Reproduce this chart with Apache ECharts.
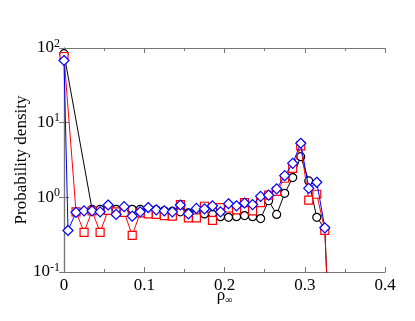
<!DOCTYPE html>
<html>
<head>
<meta charset="utf-8">
<script src="https://cdn.jsdelivr.net/npm/echarts@6/dist/echarts.min.js"></script>
<style>
html,body{margin:0;padding:0;background:#fff}
#chart{width:415px;height:321px}
</style>
</head>
<body>
<div id="chart"></div>
<script>
'use strict'
// bin positions and densities
let blackX = [0, 0.035, 0.045, 0.055, 0.065, 0.075, 0.085, 0.095, 0.105, 0.115, 0.125, 0.135, 0.145, 0.155, 0.165, 0.175, 0.185, 0.195, 0.205, 0.215, 0.225, 0.235, 0.245, 0.255, 0.265, 0.275, 0.285, 0.295, 0.305, 0.315, 0.325, 0.335],
	blackY = [84, 0.69, 0.69, 0.69, 0.69, 0.69, 0.69, 0.69, 0.69, 0.68, 0.66, 0.65, 0.64, 0.62, 0.59, 0.60, 0.59, 0.55, 0.54, 0.55, 0.57, 0.55, 0.52, 0.9, 0.59, 1.13, 1.84, 3.5, 1.66, 0.54, 0.38, 0.001];
let redX = [0, 0.015, 0.025, 0.035, 0.045, 0.055, 0.065, 0.075, 0.085, 0.095, 0.105, 0.115, 0.125, 0.135, 0.145, 0.155, 0.165, 0.175, 0.185, 0.195, 0.205, 0.215, 0.225, 0.235, 0.245, 0.255, 0.265, 0.275, 0.285, 0.295, 0.305, 0.315, 0.325, 0.335],
	redY = [77, 0.64, 0.34, 0.66, 0.34, 0.67, 0.64, 0.63, 0.31, 0.62, 0.60, 0.59, 0.57, 0.56, 0.80, 0.53, 0.53, 0.76, 0.49, 0.73, 0.72, 0.68, 0.85, 0.66, 0.85, 1.07, 1.2, 1.8, 2.45, 4.9, 0.92, 1.1, 0.36, 0.001];
let blueX = [0, 0.005, 0.015, 0.025, 0.035, 0.045, 0.055, 0.065, 0.075, 0.085, 0.095, 0.105, 0.115, 0.125, 0.135, 0.145, 0.155, 0.165, 0.175, 0.185, 0.195, 0.205, 0.215, 0.225, 0.235, 0.245, 0.255, 0.265, 0.275, 0.285, 0.295, 0.305, 0.315, 0.325],
	blueY = [68, 0.36, 0.63, 0.66, 0.66, 0.64, 0.79, 0.59, 0.75, 0.56, 0.64, 0.73, 0.68, 0.66, 0.64, 0.79, 0.60, 0.71, 0.70, 0.77, 0.64, 0.82, 0.77, 0.84, 0.80, 1.03, 1.07, 1.3, 1.95, 2.85, 5.3, 1.32, 1.59, 0.39];
let xTicks = ['0', '0.1', '0.2', '0.3', '0.4'];

const pair = (xs, ys) => xs.map((x, i) => [x, ys[i]]);
const font = 'Liberation Serif';
const axisCol = '#777';

let chart = echarts.init(document.getElementById('chart'));
let mk = (name, xs, ys, col, sym, z) => ({
	name: name,
	type: 'line',
	data: pair(xs, ys),
	symbol: sym,
	symbolSize: sym == 'diamond' ? 10 : 8,
	showAllSymbol: true,
	z: z,
	lineStyle: {color: col, width: 1},
	itemStyle: {color: '#fff', borderColor: col, borderWidth: 1.2},
	emphasis: {disabled: true},
	animation: false
});
let option = {
	animation: false,
	grid: {left: 64, right: 30, top: 48, bottom: 49, outerBoundsMode: 'none', containLabel: false},
	xAxis: [{
		type: 'value', min: 0, max: 0.4, interval: 0.1,
		axisLine: {lineStyle: {color: axisCol, width: 1.2}},
		axisTick: {inside: true, length: 5, lineStyle: {color: axisCol}},
		minorTick: {show: true, splitNumber: 2, length: 3, lineStyle: {color: axisCol}},
		splitLine: {show: false},
		axisLabel: {
			color: '#000', fontFamily: font, fontSize: 17, margin: 5,
			formatter: (v) => xTicks[Math.round(v * 10)]
		},
		name: 'ρ{s|∞}',
		nameLocation: 'middle', nameGap: 14, nameMoveOverlap: false,
		nameTextStyle: {color: '#000', fontFamily: font, fontSize: 17, rich: {s: {fontSize: 10, fontFamily: font, verticalAlign: 'bottom', padding: [9, 0, 0, 0]}}}
	}, {
		type: 'value', min: 0, max: 0.4, interval: 0.1, position: 'top',
		axisLine: {show: true, lineStyle: {color: axisCol, width: 1.2}},
		axisTick: {show: true, inside: true, length: 5, lineStyle: {color: axisCol}},
		minorTick: {show: true, splitNumber: 2, length: 3, lineStyle: {color: axisCol}},
		splitLine: {show: false},
		axisLabel: {show: false}
	}],
	yAxis: [{
		type: 'log', logBase: 10, min: 0.1, max: 100,
		axisLine: {show: true, lineStyle: {color: axisCol, width: 1.2}},
		axisTick: {show: true, inside: true, length: 5, lineStyle: {color: axisCol}},
		splitLine: {show: false},
		axisLabel: {
			color: '#000', fontFamily: font, fontSize: 17, margin: 4,
			formatter: (v) => '10{s|' + Math.round(Math.log10(v)) + '}',
			rich: {s: {fontSize: 12, fontFamily: font, verticalAlign: 'top', padding: [0, 0, 9, 0]}}
		},
		name: 'Probability density',
		nameLocation: 'middle', nameGap: 34, nameRotate: 90, nameMoveOverlap: false,
		nameTextStyle: {color: '#000', fontFamily: font, fontSize: 17}
	}, {
		type: 'log', logBase: 10, min: 0.1, max: 100, position: 'right',
		axisLine: {show: true, lineStyle: {color: axisCol, width: 1.2}},
		axisTick: {show: true, inside: true, length: 5, lineStyle: {color: axisCol}},
		splitLine: {show: false},
		axisLabel: {show: false}
	}],
	series: [
		mk('black', blackX, blackY, '#000', 'circle', 2),
		mk('red', redX, redY, '#ff0000', 'rect', 3),
		mk('blue', blueX, blueY, '#0000ff', 'diamond', 4)
	]
};
chart.setOption(option);
</script>
</body>
</html>
